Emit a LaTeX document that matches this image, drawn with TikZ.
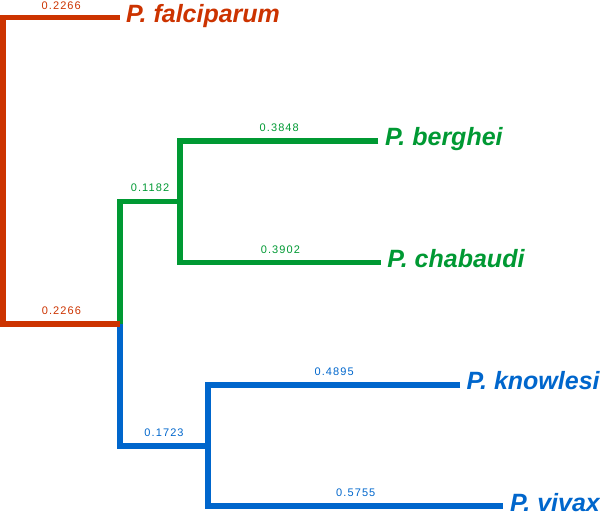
\documentclass[tikz,border=0pt]{standalone}
\usepackage{fontspec}
\setmainfont{Liberation Sans}
\newfontfamily\numfont[LetterSpace=10]{Liberation Sans}
\definecolor{tred}{HTML}{CC3300}
\definecolor{tgreen}{HTML}{009933}
\definecolor{tblue}{HTML}{0066CC}
\tikzset{
  branch/.style={line width=5.8pt, line cap=butt, line join=miter},
  numlbl/.style={anchor=base, yshift=9.5pt, inner sep=0pt, font=\numfont\fontsize{11}{13}\selectfont},
  taxon/.style={anchor=base west, inner sep=0pt, xshift=6.5pt, yshift=-4.8pt, font=\fontsize{25}{29}\selectfont\bfseries\itshape},
}
\begin{document}
\begin{tikzpicture}[x=1pt,y=-1pt]
\useasboundingbox (0,0) rectangle (600,516);
% junction coordinates
\coordinate (r1) at (3,17.5);
\coordinate (r2) at (3,323.8);
\coordinate (A) at (119.8,323.8);
\coordinate (fal) at (119.5,17.5);
\coordinate (Bv) at (119.8,201.5);
\coordinate (B) at (180.2,201.5);
\coordinate (b1) at (180.2,141);
\coordinate (b2) at (180.2,262.5);
\coordinate (ber) at (378.3,141);
\coordinate (cha) at (380.7,262.5);
\coordinate (Cv) at (119.8,445.8);
\coordinate (C) at (208.3,445.8);
\coordinate (c1) at (208.3,385);
\coordinate (c2) at (208.3,506.3);
\coordinate (kno) at (460,385);
\coordinate (viv) at (503.3,506.3);
% green clade
\draw[branch, tgreen] (A) -- (Bv) -- node[numlbl]{0.1182} (B);
\draw[branch, tgreen] (ber) -- node[numlbl]{0.3848} (b1) -- (b2) -- node[numlbl]{0.3902} (cha);
% blue clade
\draw[branch, tblue] (A) -- (Cv) -- node[numlbl]{0.1723} (C);
\draw[branch, tblue] (kno) -- node[numlbl]{0.4895} (c1) -- (c2) -- node[numlbl]{0.5755} (viv);
% red root
\draw[branch, tred] (fal) -- node[numlbl, yshift=-2pt]{0.2266} (r1) -- (r2) -- node[numlbl]{0.2266} (A);
% taxa
\node[taxon, text=tred] (tfal) at (fal) {P. falciparum};
\node[taxon, text=tgreen] (tber) at (ber) {P. berghei};
\node[taxon, text=tgreen] (tcha) at (cha) {P. chabaudi};
\node[taxon, text=tblue] (tkno) at (kno) {P. knowlesi};
\node[taxon, text=tblue] (tviv) at (viv) {P. vivax};
\end{tikzpicture}
\end{document}
